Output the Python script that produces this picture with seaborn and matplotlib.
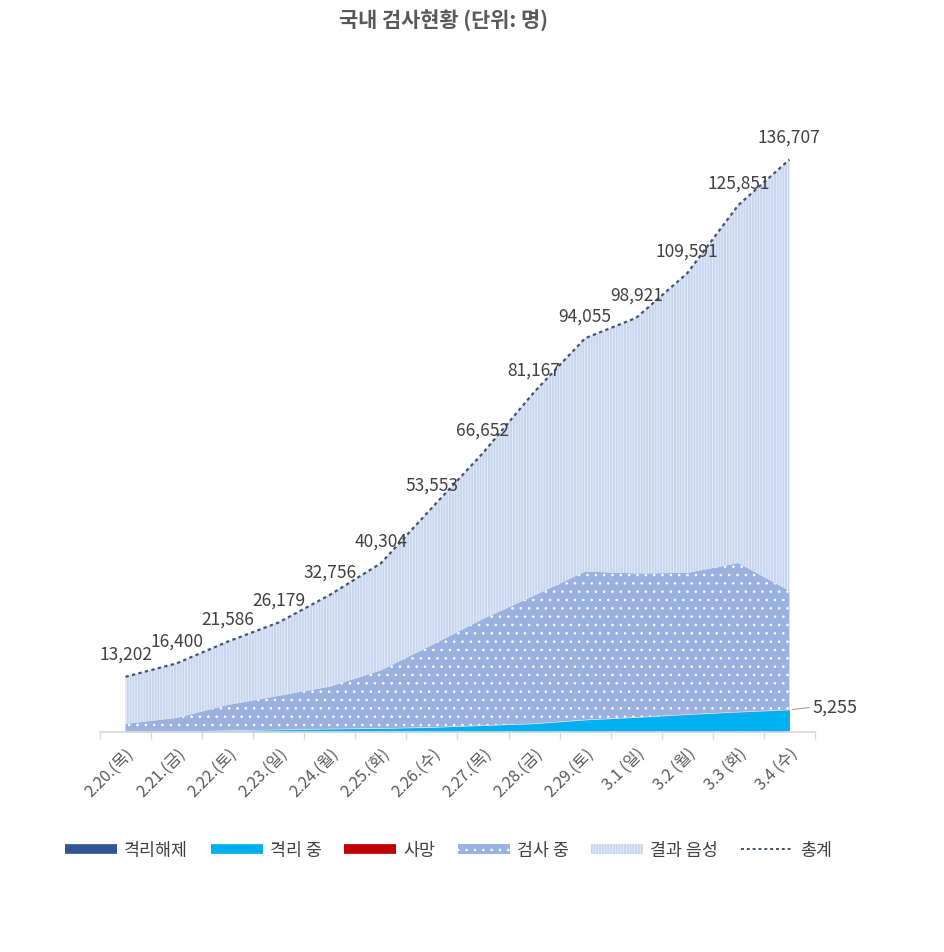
import numpy as np
import pandas as pd
import matplotlib
matplotlib.use('Agg')
import matplotlib.pyplot as plt
import seaborn as sns
from matplotlib.lines import Line2D
from matplotlib.patches import Patch

# daily test status (0 o'clock counts)
dates = ['2.20.(목)', '2.21.(금)', '2.22.(토)', '2.23.(일)', '2.24.(월)', '2.25.(화)', '2.26.(수)',
         '2.27.(목)', '2.28.(금)', '2.29.(토)', '3.1 (일)', '3.2 (월)', '3.3 (화)', '3.4 (수)']
released = [16, 16, 17, 18, 18, 22, 22, 22, 24, 27, 30, 31, 34, 41]
isolated = [66, 139, 327, 534, 738, 863, 1113, 1561, 1985, 2888, 3479, 4159, 4750, 5255]
deaths = [0, 1, 2, 4, 7, 8, 11, 12, 13, 16, 17, 22, 28, 32]
testing = [1882, 3228, 6124, 8103, 10089, 13843, 19640, 25415, 30552, 35401, 34358, 33799, 35555, 28414]
negative = [11238, 13016, 15116, 17520, 21904, 25568, 32767, 39642, 48593, 55723, 61037, 71580, 85484, 102965]

df = pd.DataFrame({'date': dates, 'released': released, 'isolated': isolated,
                   'deaths': deaths, 'testing': testing, 'negative': negative})
df['total'] = df[['released', 'isolated', 'deaths', 'testing', 'negative']].sum(axis=1)
df['pos'] = np.arange(len(df))

sns.set_theme(style='white')
plt.rcParams['font.family'] = ['Noto Sans CJK KR', 'DejaVu Sans']
plt.rcParams['hatch.linewidth'] = 0.6

fig = plt.figure(figsize=(9.44, 9.53), dpi=100)
ax = fig.add_axes([0.1059, 0.2308, 0.7574, 0.703])

colors = ['#2F5597', '#00B0F0', '#C00000', '#9BB1DF', '#C7D5EE']
polys = ax.stackplot(df['pos'], df['released'], df['isolated'], df['deaths'],
                     df['testing'], df['negative'], colors=colors)
polys[3].set_hatch('..')
polys[3].set_edgecolor('white')
polys[3].set_linewidth(0)
polys[4].set_hatch('||||||')
polys[4].set_edgecolor('#E9EFF9')
polys[4].set_linewidth(0)
for p in polys[:3]:
    p.set_linewidth(0)

sns.lineplot(data=df, x='pos', y='total', ax=ax, color='#44546A',
             linestyle=(0, (1.5, 1.5)), linewidth=1.6)

for i, v in enumerate(df['total']):
    ax.annotate(f'{v:,}', (i, v), xytext=(0, 10), textcoords='offset points',
                ha='center', va='bottom', fontsize=12.5, color='#404040')

last = len(df) - 1
ax.annotate(f"{df['isolated'].iloc[-1]:,}", (last, df['released'].iloc[-1] + df['isolated'].iloc[-1]),
            xytext=(17, 2), textcoords='offset points', ha='left', va='center',
            fontsize=13, color='#404040',
            arrowprops=dict(arrowstyle='-', color='#A6A6A6', lw=0.8, shrinkA=0, shrinkB=2,
                            relpos=(0, 0.5)))

ax.set_xlim(-0.5, len(df) - 0.5)
ax.set_ylim(0, 160000)
ax.set_xticks(df['pos'])
ax.set_xticklabels(dates, rotation=45, ha='right', rotation_mode='anchor',
                   fontsize=11.5, color='#595959')
ax.set_xticks(np.arange(-0.5, len(df)), minor=True)
ax.tick_params(axis='x', which='major', length=0, pad=9)
ax.tick_params(axis='x', which='minor', length=5, color='#D9D9D9', bottom=True)
ax.set_yticks([])
ax.set_xlabel('')
ax.set_ylabel('')
for s in ['left', 'right', 'top']:
    ax.spines[s].set_visible(False)
ax.spines['bottom'].set_color('#D9D9D9')

fig.suptitle('국내 검사현황 (단위: 명)', x=0.47, y=0.99, fontsize=15,
             fontweight='bold', color='#595959')

handles = [
    Line2D([0], [0], color='#2F5597', lw=7, solid_capstyle='butt'),
    Line2D([0], [0], color='#00B0F0', lw=7, solid_capstyle='butt'),
    Line2D([0], [0], color='#C00000', lw=7, solid_capstyle='butt'),
    Patch(facecolor='#9BB1DF', edgecolor='white', hatch='..', lw=0),
    Patch(facecolor='#C7D5EE', edgecolor='#E9EFF9', hatch='||||||', lw=0),
    Line2D([0], [0], color='#44546A', lw=1.4, linestyle=(0, (1.5, 1.5))),
]
labels = ['격리해제', '격리 중', '사망', '검사 중', '결과 음성', '총계']
fig.legend(handles, labels, loc='center', bbox_to_anchor=(0.475, 0.107), ncol=6,
           frameon=False, fontsize=12.5, handlelength=3.0, handleheight=0.5,
           columnspacing=1.3, handletextpad=0.4, labelcolor='#404040')

fig.savefig('out.png', dpi=100)
